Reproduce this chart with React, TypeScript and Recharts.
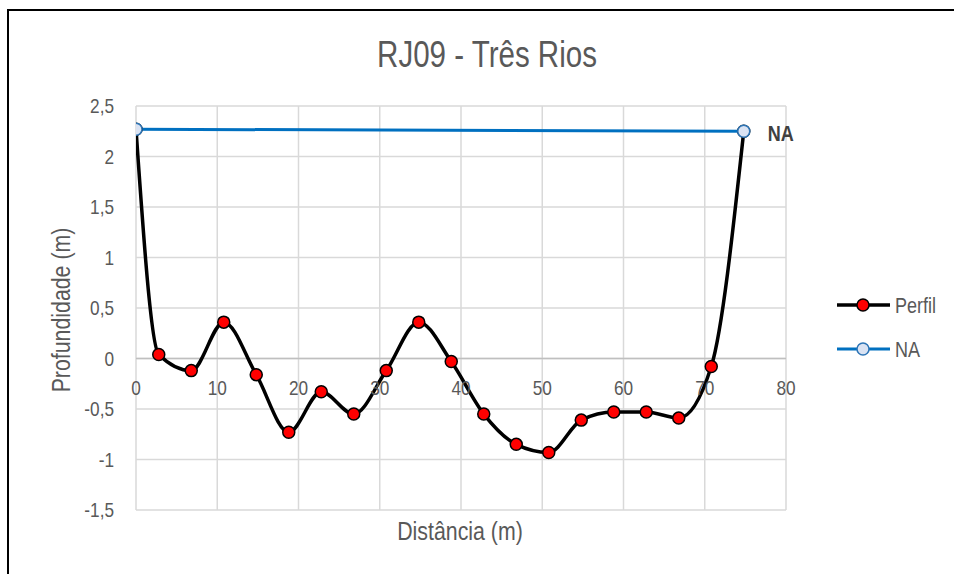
import React from 'react'
import { LineChart, Line, XAxis, YAxis, CartesianGrid, ReferenceLine, LabelList } from 'recharts'

// perfil do leito (distância em m, profundidade em m)
const distancia = [0, 2.8, 6.8, 10.8, 14.8, 18.8, 22.8, 26.8, 30.8, 34.8, 38.8, 42.8, 46.8, 50.8, 54.8, 58.8, 62.8, 66.8, 70.8, 74.8]
const profundidade = [2.27, 0.04, -0.12, 0.36, -0.16, -0.73, -0.33, -0.55, -0.12, 0.36, -0.03, -0.55, -0.85, -0.93, -0.61, -0.53, -0.53, -0.59, -0.08, 2.25]

// nível d'água
const naDistancia = [0, 74.8]
const naNivel = [2.27, 2.25]

const xTicks = [0, 10, 20, 30, 40, 50, 60, 70, 80]
const yTicks = [-1.5, -1, -0.5, 0, 0.5, 1, 1.5, 2, 2.5]

const perfilData = distancia.map((d, i) => ({ x: d, perfil: profundidade[i] }))
const naData = naDistancia.map((d, i) => ({ x: d, na: naNivel[i] }))

const FONT = "'Liberation Sans', Arial, sans-serif"
const GRAY = '#595959'
const SQUEEZE = 0.82 // the original text is a condensed sans

const XTick = (props: any) => {
    const { x, y, payload } = props
    // Excel crosses the horizontal axis at 0, so the labels sit under the zero line
    return (
        <g transform={`translate(${x},${y - 122}) scale(${SQUEEZE},1)`}>
            <text x={0} y={0} textAnchor="middle" dominantBaseline="central" fill={GRAY} fontSize={21} fontFamily={FONT}>
                {payload.value}
            </text>
        </g>
    )
}

const YTick = (props: any) => {
    const { x, y, payload } = props
    return (
        <g transform={`translate(${x},${y}) scale(${SQUEEZE},1)`}>
            <text x={0} y={0} textAnchor="end" dominantBaseline="central" fill={GRAY} fontSize={21} fontFamily={FONT}>
                {String(payload.value).replace('.', ',')}
            </text>
        </g>
    )
}

const LegendBox = () => (
    <svg width={115} height={80} style={{ fontFamily: FONT, display: 'block' }}>
        <line x1={0} y1={13} x2={53} y2={13} stroke="#000" strokeWidth={3.5} />
        <circle cx={26} cy={13} r={6} fill="#ff0000" stroke="#000" strokeWidth={1.5} />
        <g transform={`translate(58,13) scale(${SQUEEZE},1)`}>
            <text x={0} y={0} dominantBaseline="central" fontSize={22} fill={GRAY}>Perfil</text>
        </g>
        <line x1={0} y1={57} x2={53} y2={57} stroke="#0070c0" strokeWidth={3} />
        <circle cx={26} cy={57} r={6} fill="#dae3f3" stroke="#2e75b6" strokeWidth={1.5} />
        <g transform={`translate(58,57) scale(${SQUEEZE},1)`}>
            <text x={0} y={0} dominantBaseline="central" fontSize={22} fill={GRAY}>NA</text>
        </g>
    </svg>
)

const NaLabel = (props: any) => {
    const { x, y, index } = props
    if (index !== naData.length - 1) return null
    return (
        <g transform={`translate(${x + 24},${y + 2}) scale(${SQUEEZE},1)`}>
            <text x={0} y={0} dominantBaseline="central" fontSize={22} fontWeight="bold" fill="#404040" fontFamily={FONT}>
                NA
            </text>
        </g>
    )
}

const textStyle: React.CSSProperties = { fontFamily: FONT, color: GRAY, whiteSpace: 'nowrap', position: 'absolute' }

const App = () => {
    return (
        <div style={{ position: 'fixed', left: 0, top: 0, width: 954, height: 574, overflow: 'hidden', background: '#fff' }}>
            <div style={{ position: 'absolute', left: 7, top: 9, width: 1000, height: 700, borderTop: '2px solid #000', borderLeft: '2px solid #000' }} />
            <div style={{ ...textStyle, left: 487, top: 55, fontSize: 36, transform: `translate(-50%, -50%) scale(${SQUEEZE},1)` }}>
                RJ09 - Três Rios
            </div>
            <div style={{ ...textStyle, left: 460, top: 531, fontSize: 26, transform: `translate(-50%, -50%) scale(${SQUEEZE},1)` }}>
                Distância (m)
            </div>
            <div style={{ ...textStyle, left: 61, top: 310, fontSize: 26, transform: `translate(-50%, -50%) rotate(-90deg) scale(${SQUEEZE},1)` }}>
                Profundidade (m)
            </div>
            <div style={{ position: 'absolute', left: 0, top: 0 }}>
                <LineChart width={954} height={574} margin={{ top: 106, right: 168, bottom: 0, left: 0 }}>
                    <CartesianGrid stroke="#d9d9d9" strokeWidth={1.5} />
                    <XAxis
                        type="number"
                        dataKey="x"
                        domain={[0, 80]}
                        ticks={xTicks}
                        height={64}
                        axisLine={false}
                        tickLine={false}
                        tickSize={0}
                        tickMargin={0}
                        tick={<XTick />}
                        allowDataOverflow
                    />
                    <YAxis
                        type="number"
                        domain={[-1.5, 2.5]}
                        ticks={yTicks}
                        width={136}
                        axisLine={false}
                        tickLine={false}
                        tickSize={0}
                        tickMargin={22}
                        tick={<YTick />}
                    />
                    <ReferenceLine y={0} stroke="#bfbfbf" strokeWidth={1.5} />
                    <Line
                        data={perfilData}
                        dataKey="perfil"
                        name="Perfil"
                        type="monotone"
                        stroke="#000"
                        strokeWidth={3.5}
                        dot={{ r: 6, fill: '#ff0000', stroke: '#000', strokeWidth: 1.5 }}
                        isAnimationActive={false}
                    />
                    <Line
                        data={naData}
                        dataKey="na"
                        name="NA"
                        type="linear"
                        stroke="#0070c0"
                        strokeWidth={3}
                        dot={{ r: 6, fill: '#dae3f3', stroke: '#2e75b6', strokeWidth: 1.5 }}
                        isAnimationActive={false}
                    >
                        <LabelList dataKey="na" content={<NaLabel />} />
                    </Line>
                </LineChart>
            </div>
            <div style={{ position: 'absolute', left: 837, top: 292 }}>
                <LegendBox />
            </div>
        </div>
    )
}

export default App
